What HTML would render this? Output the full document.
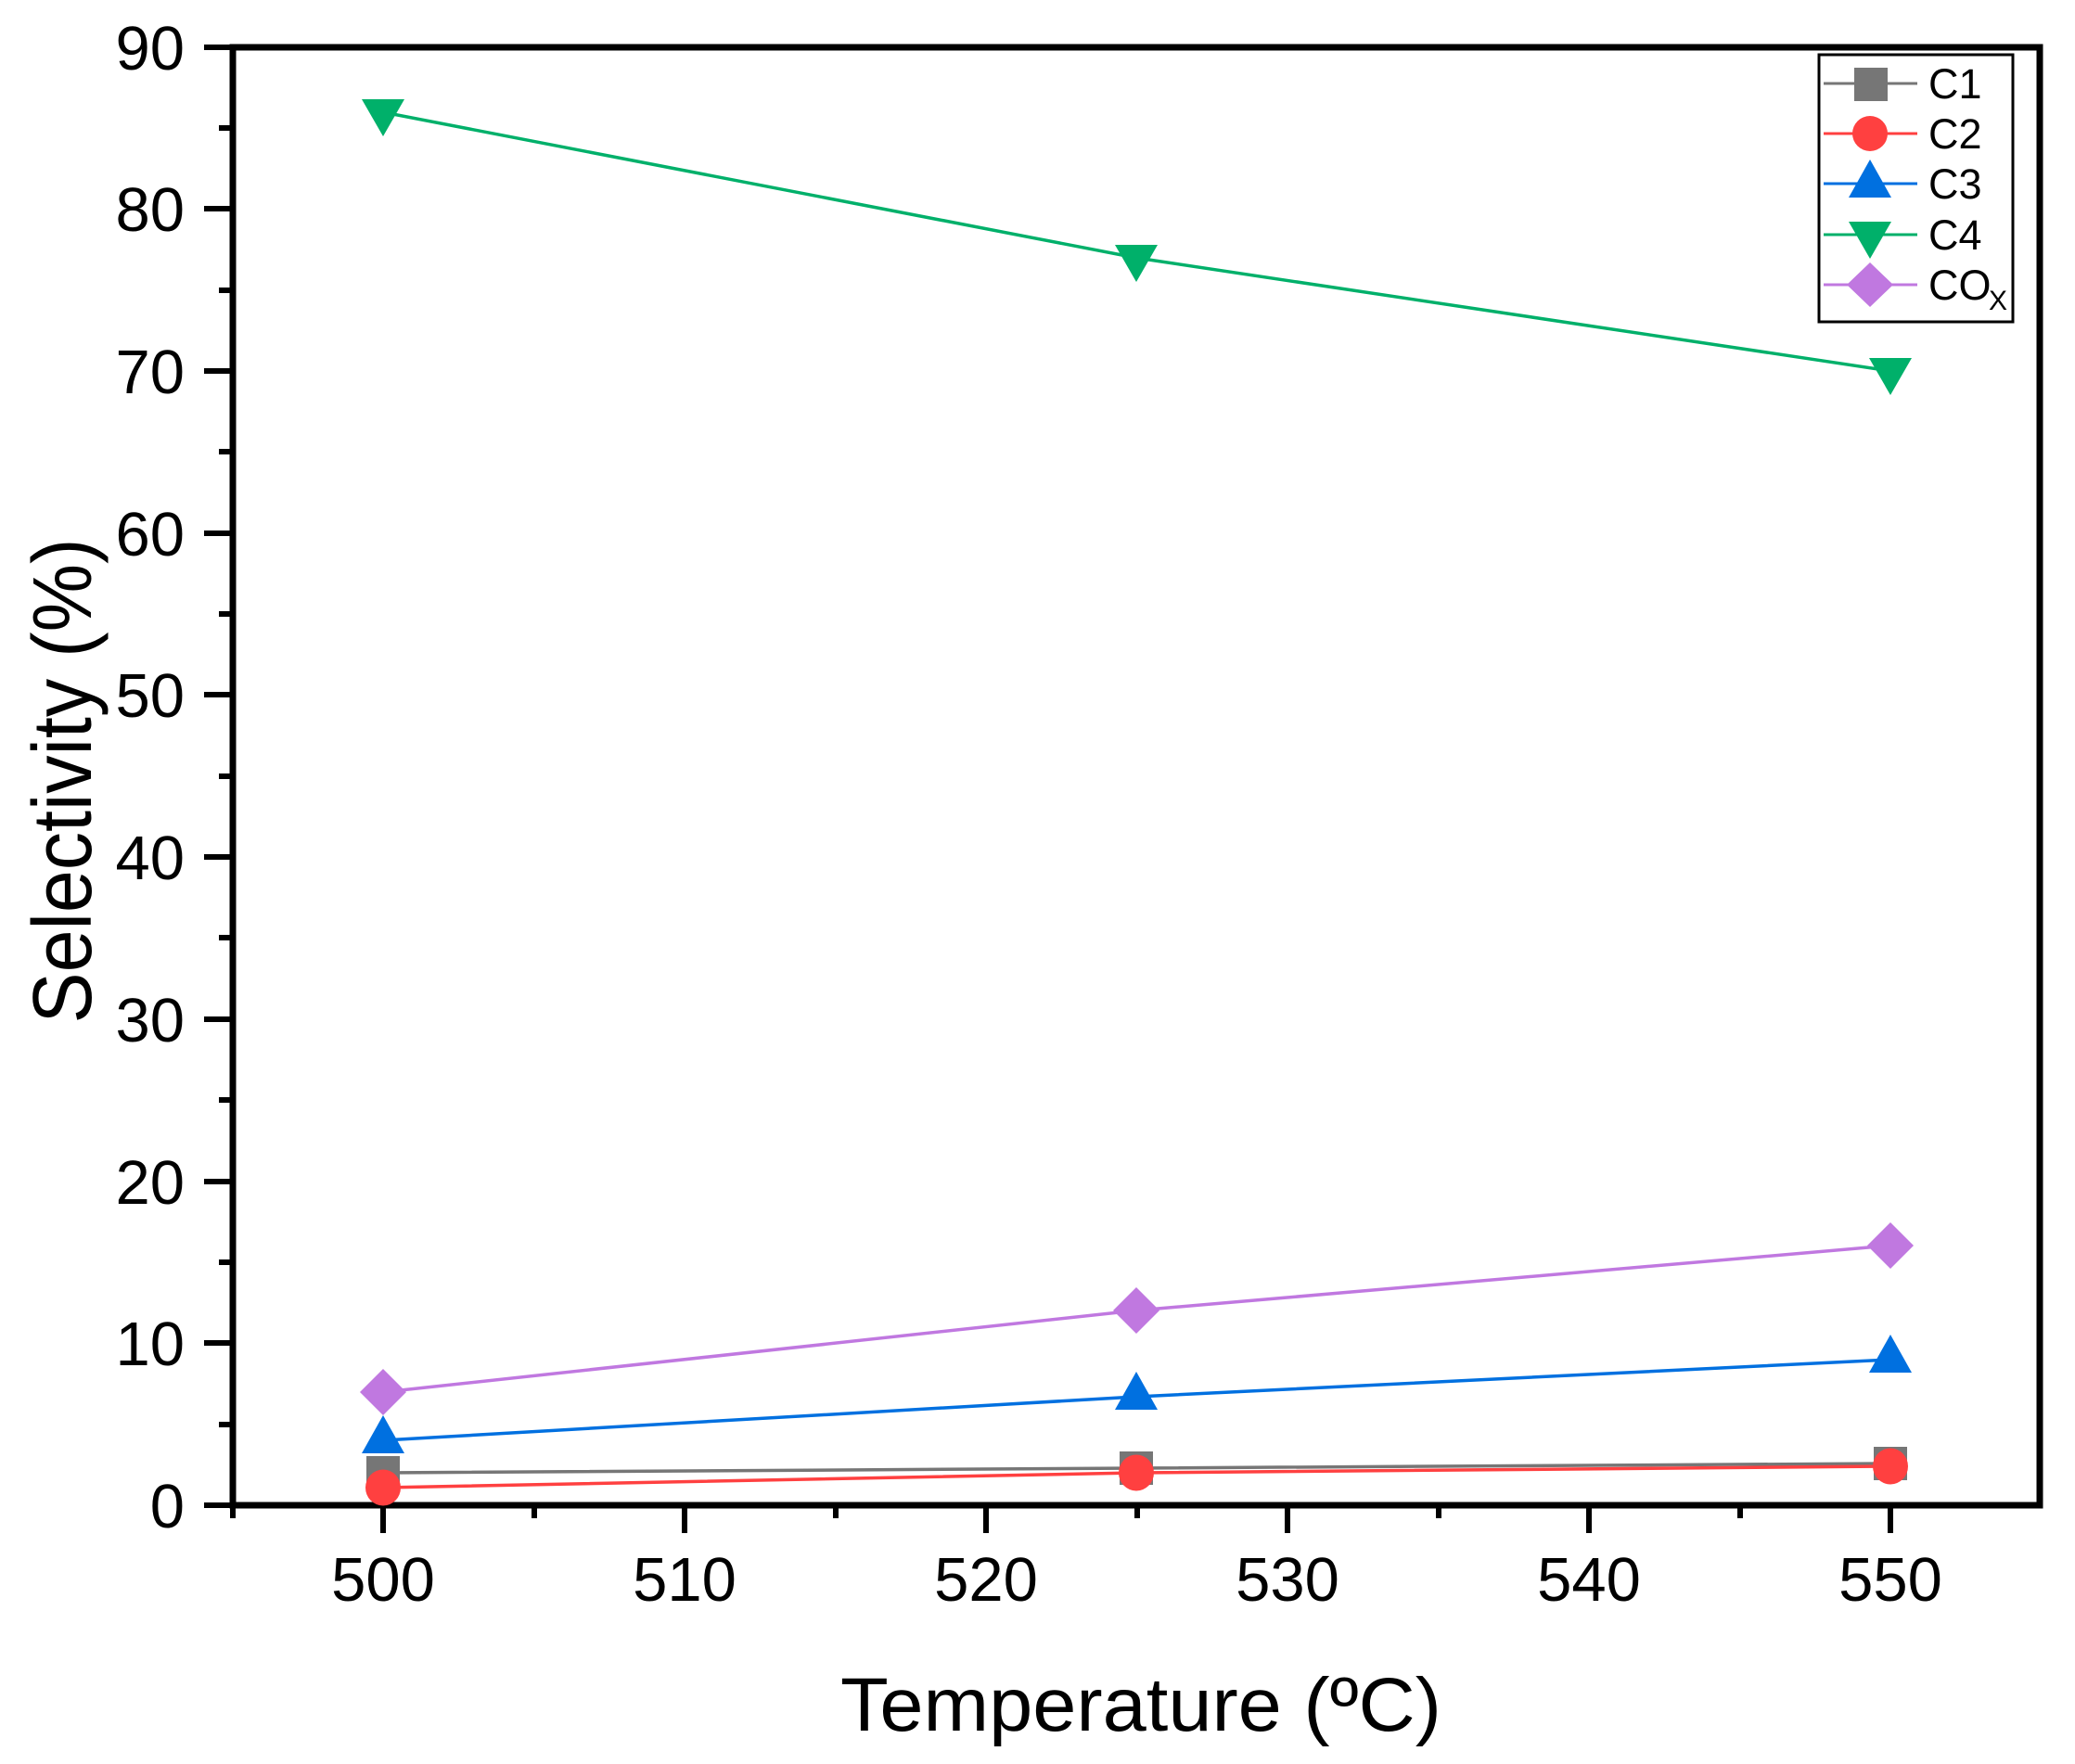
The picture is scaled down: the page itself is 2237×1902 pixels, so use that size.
<!DOCTYPE html>
<html><head><meta charset="utf-8"><style>
html,body{margin:0;padding:0;background:#fff}
svg{display:block}
text{font-family:"Liberation Sans",Arial,sans-serif;fill:#000}
</style></head><body>
<svg width="2237" height="1902" viewBox="0 0 2237 1902" xmlns="http://www.w3.org/2000/svg">
<rect width="2237" height="1902" fill="#fff"/>
<rect x="251" y="51" width="1948" height="1572" fill="none" stroke="#000" stroke-width="7"/>
<g stroke="#000" stroke-width="6">
<line x1="220" y1="51" x2="251" y2="51"/><line x1="236" y1="138" x2="251" y2="138"/>
<line x1="220" y1="225" x2="251" y2="225"/><line x1="236" y1="313" x2="251" y2="313"/>
<line x1="220" y1="400" x2="251" y2="400"/><line x1="236" y1="487" x2="251" y2="487"/>
<line x1="220" y1="575" x2="251" y2="575"/><line x1="236" y1="662" x2="251" y2="662"/>
<line x1="220" y1="749" x2="251" y2="749"/><line x1="236" y1="837" x2="251" y2="837"/>
<line x1="220" y1="924" x2="251" y2="924"/><line x1="236" y1="1011" x2="251" y2="1011"/>
<line x1="220" y1="1099" x2="251" y2="1099"/><line x1="236" y1="1186" x2="251" y2="1186"/>
<line x1="220" y1="1274" x2="251" y2="1274"/><line x1="236" y1="1361" x2="251" y2="1361"/>
<line x1="220" y1="1448" x2="251" y2="1448"/><line x1="236" y1="1536" x2="251" y2="1536"/>
<line x1="220" y1="1623" x2="251" y2="1623"/>
<line x1="251" y1="1623" x2="251" y2="1637"/>
<line x1="413" y1="1623" x2="413" y2="1653"/><line x1="576" y1="1623" x2="576" y2="1637"/>
<line x1="738" y1="1623" x2="738" y2="1653"/><line x1="901" y1="1623" x2="901" y2="1637"/>
<line x1="1063" y1="1623" x2="1063" y2="1653"/><line x1="1226" y1="1623" x2="1226" y2="1637"/>
<line x1="1388" y1="1623" x2="1388" y2="1653"/><line x1="1551" y1="1623" x2="1551" y2="1637"/>
<line x1="1713" y1="1623" x2="1713" y2="1653"/><line x1="1876" y1="1623" x2="1876" y2="1637"/>
<line x1="2038" y1="1623" x2="2038" y2="1653"/>
</g>
<g font-size="67" text-anchor="end">
<text x="199" y="75">90</text><text x="199" y="249">80</text><text x="199" y="424">70</text>
<text x="199" y="599">60</text><text x="199" y="773">50</text><text x="199" y="948">40</text>
<text x="199" y="1123">30</text><text x="199" y="1298">20</text><text x="199" y="1472">10</text>
<text x="199" y="1647">0</text>
</g>
<g font-size="67" text-anchor="middle">
<text x="413" y="1726">500</text><text x="738" y="1726">510</text><text x="1063" y="1726">520</text>
<text x="1388" y="1726">530</text><text x="1713" y="1726">540</text><text x="2038" y="1726">550</text>
</g>
<text x="1230" y="1866" font-size="82" text-anchor="middle" textLength="648" lengthAdjust="spacingAndGlyphs">Temperature (ºC)</text>
<text transform="translate(98,842) rotate(-90)" font-size="90" text-anchor="middle" textLength="523" lengthAdjust="spacingAndGlyphs">Selectivity (%)</text>
<g fill="none" stroke-width="3.5">
<polyline stroke="#767676" points="413,1588 1225,1583 2038,1578"/>
<polyline stroke="#ff4040" points="413,1604 1225,1588 2038,1581"/>
<polyline stroke="#0070e0" points="413,1553 1225,1506 2038,1466"/>
<polyline stroke="#00b06a" points="413,121 1225,278 2038,400"/>
<polyline stroke="#c078e0" points="413,1501 1225,1413 2038,1343"/>
</g>
<g fill="#767676">
<rect x="395" y="1570" width="36" height="36"/><rect x="1207" y="1565" width="36" height="36"/><rect x="2020" y="1560" width="36" height="36"/>
</g>
<g fill="#ff4040">
<ellipse cx="413" cy="1604" rx="19" ry="19.5"/><ellipse cx="1225" cy="1588" rx="19" ry="19.5"/><ellipse cx="2038" cy="1581" rx="19" ry="19.5"/>
</g>
<g fill="#0070e0">
<polygon points="413,1526 436,1567 390,1567"/><polygon points="1225,1479 1248,1520 1202,1520"/><polygon points="2038,1439 2061,1480 2015,1480"/>
</g>
<g fill="#00b06a">
<polygon points="390,107 436,107 413,147"/><polygon points="1202,264 1248,264 1225,304"/><polygon points="2015,386 2061,386 2038,426"/>
</g>
<g fill="#c078e0">
<polygon points="413,1476 438,1501 413,1526 388,1501"/><polygon points="1225,1388 1250,1413 1225,1438 1200,1413"/><polygon points="2038,1318 2063,1343 2038,1368 2013,1343"/>
</g>
<rect x="1961" y="59" width="209" height="288" fill="#fff" stroke="#000" stroke-width="3"/>
<g stroke-width="3">
<line x1="1966" y1="90" x2="2067" y2="90" stroke="#767676"/>
<line x1="1966" y1="144" x2="2067" y2="144" stroke="#ff4040"/>
<line x1="1966" y1="198" x2="2067" y2="198" stroke="#0070e0"/>
<line x1="1966" y1="253" x2="2067" y2="253" stroke="#00b06a"/>
<line x1="1966" y1="307" x2="2067" y2="307" stroke="#c078e0"/>
</g>
<rect x="1999" y="73" width="36" height="36" fill="#767676"/>
<circle cx="2016" cy="144" r="19" fill="#ff4040"/>
<polygon points="2016,172 2039,213 1993,213" fill="#0070e0"/>
<polygon points="1993,239 2039,239 2016,279" fill="#00b06a"/>
<polygon points="2016,283 2041,307 2016,331 1991,307" fill="#c078e0"/>
<g font-size="45">
<text x="2079" y="106">C1</text><text x="2079" y="160">C2</text><text x="2079" y="214">C3</text>
<text x="2079" y="269">C4</text><text x="2079" y="323">CO</text><text x="2144" y="334" font-size="30">X</text>
</g>
</svg>
</body></html>
